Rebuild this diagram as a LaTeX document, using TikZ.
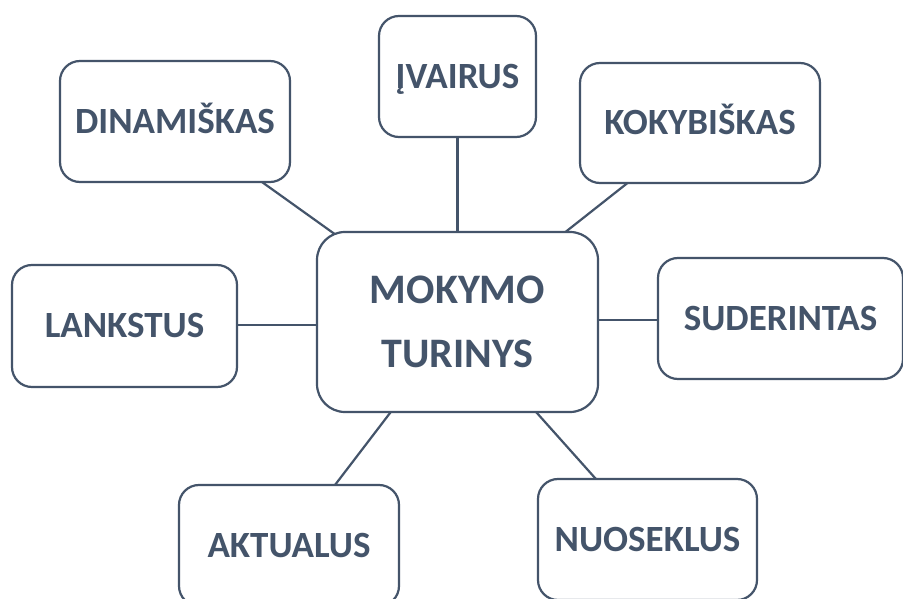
\documentclass[tikz,border=0pt]{standalone}
\usepackage{fontspec}
\setmainfont{Carlito}
\usetikzlibrary{backgrounds,calc}
\definecolor{ink}{HTML}{44546A}
\tikzset{
  labelbox/.style={draw=ink, line width=2.2pt, fill=white, rounded corners=20pt,
    inner sep=0pt, text=ink, font=\fontsize{37}{40}\selectfont\bfseries,
    text height=23.5pt, text depth=0pt},
  centerbox/.style={draw=ink, line width=2.2pt, fill=white, rounded corners=28pt,
    inner sep=0pt, text=ink, align=center,
    font=\fontsize{42}{64}\selectfont\bfseries},
  link/.style={draw=ink, line width=2.2pt}
}
\begin{document}
\begin{tikzpicture}[x=1pt,y=-1pt]
\useasboundingbox (0,0) rectangle (903,599);
\clip (0,0) rectangle (903,599);
\node[centerbox, minimum width=281pt, minimum height=180pt] (mok) at (457.5,322) {MOKYMO\\TURINYS};
\node[labelbox, minimum width=230pt, minimum height=121pt] (din) at (175,121.5) {DINAMIŠKAS};
\node[labelbox, minimum width=157pt, minimum height=121pt] (iva) at (457.5,76.5) {ĮVAIRUS};
\node[labelbox, minimum width=240pt, minimum height=120pt] (kok) at (700,123) {KOKYBIŠKAS};
\node[labelbox, minimum width=225pt, minimum height=122pt] (lan) at (124.5,326) {LANKSTUS};
\node[labelbox, minimum width=245pt, minimum height=121pt] (sud) at (780.5,318.5) {SUDERINTAS};
\node[labelbox, minimum width=220pt, minimum height=121pt] (akt) at (289,545.5) {AKTUALUS};
\node[labelbox, minimum width=219pt, minimum height=121pt] (nuo) at (647.5,539.5) {NUOSEKLUS};
\begin{scope}[on background layer]
\fill[white] (0,0) rectangle (903,599);
\draw[link] ($(din.center)+(65,44.8)$) -- ($(mok.center)+(-107.5,-77)$);
\draw[link] ($(iva.center)+(0,40)$) -- ($(mok.center)+(0,-70)$);
\draw[link] ($(kok.center)+(-55,46.2)$) -- ($(mok.center)+(92.5,-77.8)$);
\draw[link] ($(lan.center)+(75.5,-1)$) -- ($(mok.center)+(-117.5,3)$);
\draw[link] ($(sud.center)+(-100.5,1.5)$) -- ($(mok.center)+(122.5,-2)$);
\draw[link] ($(mok.center)+(-52.5,71.4)$) -- ($(akt.center)+(31,-40.9)$);
\draw[link] ($(mok.center)+(62.5,72)$) -- ($(nuo.center)+(-35.5,-42.5)$);
\end{scope}
\end{tikzpicture}
\end{document}
